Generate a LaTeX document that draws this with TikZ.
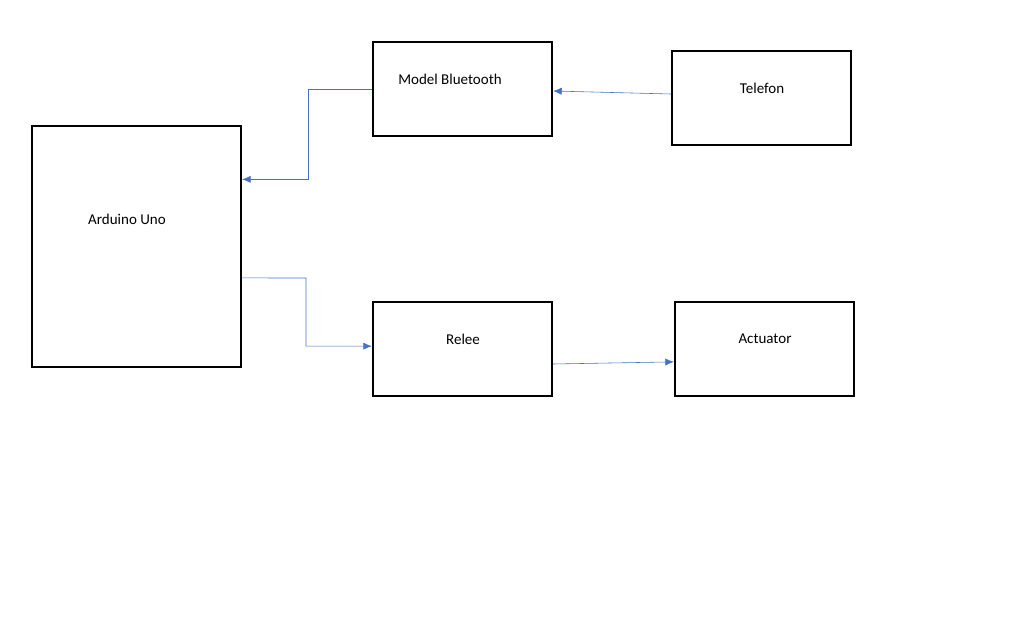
\documentclass[tikz,border=0pt]{standalone}
\usepackage{fontspec}
\setmainfont{Carlito}
\usetikzlibrary{arrows.meta,calc}

\begin{document}
\begin{tikzpicture}[x=0.7pt,y=-0.7pt,
    blockbox/.style={draw,line width=1.6pt,inner sep=0pt},
    link/.style={draw={rgb,255:red,68;green,114;blue,196},-{Latex[length=6pt,width=5pt]}},
    font=\fontsize{10.5}{12}\selectfont]
    \useasboundingbox (0,0) rectangle (1018,642);
    % boxes
    \node[blockbox,minimum width=146.3pt,minimum height=168.7pt] (ard) at (136.5,246.5) {};
    \node[blockbox,minimum width=125.3pt,minimum height=65.8pt] (bt) at (462.5,89) {};
    \node[blockbox,minimum width=125.3pt,minimum height=65.8pt] (tel) at (761.5,98) {};
    \node[blockbox,minimum width=125.3pt,minimum height=65.8pt] (rel) at (462.5,349) {};
    \node[blockbox,minimum width=125.3pt,minimum height=65.8pt] (act) at (764.5,349) {};
    % labels
    \node (tbt) at (450,79) {Model Bluetooth};
    \node (ttel) at (762,88) {Telefon};
    \node (tard) at (127,219) {Arduino Uno};
    \node (trel) at (463,339) {Relee};
    \node (tact) at (765,339) {Actuator};
    % connectors
    \coordinate (c1) at (308,89);
    \coordinate (c2) at (306,278);
    \draw[link] ([yshift=2.8pt]tel.west) -- ([yshift=-1.4pt]bt.east);
    \draw[link] (bt.west) -- (c1) |- ([yshift=47pt]ard.east);
    \draw[link] ([yshift=-22pt]ard.east) -- (c2) |- ([yshift=2pt]rel.west);
    \draw[link] ([yshift=-10.5pt]rel.east) -- ([yshift=-9pt]act.west);
\end{tikzpicture}
\end{document}
